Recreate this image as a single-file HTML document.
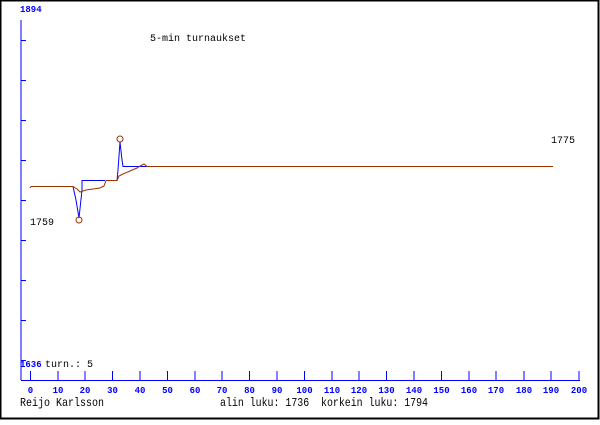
<!DOCTYPE html><html><head><style>body{margin:0}svg text{font-family:"Liberation Mono",monospace}</style></head><body>
<svg width="600" height="420" xmlns="http://www.w3.org/2000/svg">
<rect x="0" y="0" width="600" height="420" fill="#fff"/>
<rect x="0.5" y="0.5" width="598" height="418" fill="none" stroke="#000" stroke-width="2"/>
<g stroke="#00f" stroke-width="1" fill="none">
<line x1="21" y1="20" x2="21" y2="380"/>
<line x1="21" y1="380.5" x2="580" y2="380.5"/>
<path d="M21 40.5h5M21 80.5h5M21 120.5h5M21 160.5h5M21 200.5h5M21 240.5h5M21 280.5h5M21 320.5h5M21 360.5h5"/>
<path d="M30.5 371v9M58 371v9M85 371v9M112.5 371v9M140 371v9M167.5 371v9M195 371v9M222 371v9M249.5 371v9M277 371v9M304.5 371v9M332 371v9M359 371v9M386.5 371v9M414 371v9M441.5 371v9M469 371v9M496 371v9M524 371v9M551 371v9M579 371v9"/>
</g>
<g fill="#00f" font-size="9" font-weight="bold" text-anchor="middle">
<text x="30.5" y="393">0</text><text x="58" y="393">10</text><text x="85" y="393">20</text><text x="112.5" y="393">30</text><text x="140" y="393">40</text><text x="167.5" y="393">50</text><text x="195" y="393">60</text><text x="222" y="393">70</text><text x="249.5" y="393">80</text><text x="277" y="393">90</text><text x="304.5" y="393">100</text><text x="332" y="393">110</text><text x="359" y="393">120</text><text x="386.5" y="393">130</text><text x="414" y="393">140</text><text x="441.5" y="393">150</text><text x="469" y="393">160</text><text x="496" y="393">170</text><text x="524" y="393">180</text><text x="551" y="393">190</text><text x="579" y="393">200</text>
<text x="20" y="12" text-anchor="start">1894</text>
<text x="20" y="367" text-anchor="start">1636</text>
</g>
<g fill="#000" font-size="10">
<text x="45" y="367">turn.: 5</text>
<text x="150" y="41">5-min turnaukset</text>
<text x="551" y="143">1775</text>
<text x="30" y="225">1759</text>
</g>
<g fill="#000" font-size="12">
<text x="20" y="406" textLength="84" lengthAdjust="spacingAndGlyphs">Reijo Karlsson</text>
<text x="220" y="406" xml:space="preserve" textLength="208" lengthAdjust="spacingAndGlyphs">alin luku: 1736  korkein luku: 1794</text>
</g>
<path fill="none" stroke="#00f" d="M32 186.5H56M73 186.5L76 200L79 218L82 190L82 180.5H105M117 180.5L118 170L120 142L122 160L123 166.5H147"/>
<path fill="none" stroke="#930" d="M30 188L31 186.5H73L77 189L80 192L86 190L100 188L104 186L106 180.5H117L119 176L123 174L130 171L137 168L140 166L144 164L147 166.5H553"/>
<circle cx="79" cy="220" r="3" fill="none" stroke="#930"/>
<circle cx="120" cy="139" r="3" fill="none" stroke="#930"/>
</svg>
</body></html>
